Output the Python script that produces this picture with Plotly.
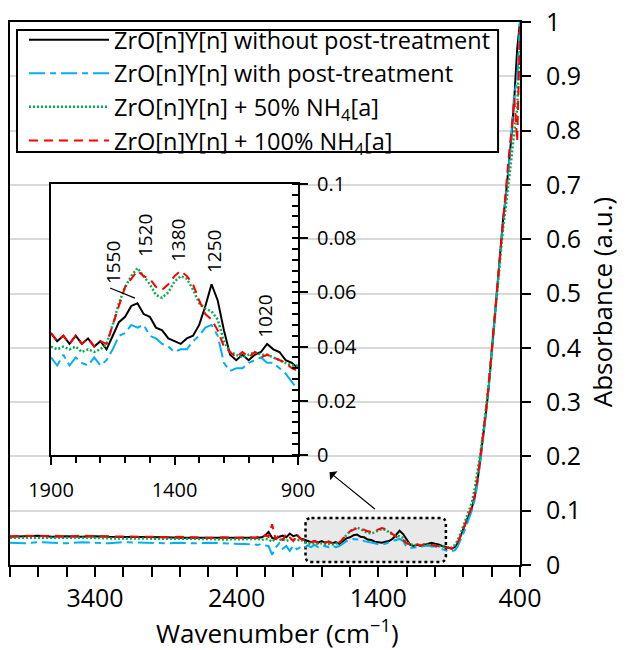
import plotly.graph_objects as go

# wavenumber grid (cm-1)
wavenumber = [
    4000, 3900, 3800, 3700, 3600, 3500, 3400, 3300, 3200, 3100, 3000, 2900, 2800, 2700, 2600, 2500, 2400, 2300,
    2275, 2250, 2225, 2200, 2175, 2150, 2125, 2100, 2075, 2050, 2025, 2000, 1975, 1950, 1925,
    1900, 1875, 1850, 1825, 1800, 1775, 1750, 1725, 1700, 1675, 1650, 1625, 1600, 1575, 1550, 1525, 1500, 1475,
    1450, 1425, 1400, 1375, 1350, 1325, 1300, 1275, 1250, 1225, 1200, 1175, 1150, 1125, 1100, 1075, 1050, 1025,
    1000, 975, 950, 925, 900,
    880, 860, 840, 820, 800, 780, 760, 740, 720, 700, 680, 660, 640, 620, 600, 580, 560, 540, 520, 500, 480, 460,
    440, 420, 400,
]

abs_without = [
    .052, .053, .054, .052, .053, .052, .053, .052, .052, .051, .051, .051, .050, .050, .050, .050, .049, .050,
    .049, .050, .051, .054, .061, .050, .048, .052, .054, .051, .058, .053, .055, .049, .047,
    .045, .042, .044, .041, .044, .041, .043, .040, .042, .039, .044, .049, .051, .055, .056, .052, .051, .047,
    .046, .043, .042, .041, .043, .044, .048, .055, .063, .057, .046, .037, .035, .037, .035, .037, .038, .041,
    .039, .038, .035, .034, .032,
    .030, .033, .040, .052, .066, .080, .092, .105, .125, .155, .195, .235, .280, .330, .390, .450, .505, .580,
    .635, .680, .730, .790, .860, .950, 1.0,
]

abs_with = [
    .041, .040, .042, .041, .040, .042, .041, .040, .042, .041, .041, .040, .041, .040, .041, .040, .040, .039,
    .038, .037, .039, .036, .035, .019, .032, .040, .030, .035, .026, .036, .029, .033, .031,
    .036, .033, .037, .033, .036, .034, .033, .036, .033, .035, .039, .044, .045, .048, .047, .048, .044, .043,
    .041, .040, .038, .039, .039, .042, .044, .047, .048, .044, .034, .031, .032, .032, .034, .035, .036, .034,
    .034, .032, .030, .027, .024,
    .025, .027, .034, .045, .058, .072, .086, .100, .120, .150, .190, .230, .280, .330, .390, .450, .505, .580,
    .630, .680, .730, .800, .870, .890, 1.0,
]

abs_nh4_50 = [
    .050, .050, .051, .050, .050, .050, .050, .049, .049, .049, .049, .048, .048, .048, .048, .047, .047, .047,
    .047, .048, .046, .048, .047, .043, .049, .046, .048, .044, .047, .049, .045, .047, .043,
    .040, .039, .040, .039, .040, .038, .039, .038, .039, .041, .048, .056, .062, .066, .069, .066, .063, .059,
    .058, .060, .064, .066, .065, .061, .056, .054, .053, .050, .042, .038, .037, .036, .037, .038, .037, .037,
    .036, .035, .034, .033, .033,
    .032, .037, .045, .058, .073, .087, .100, .115, .140, .170, .205, .245, .285, .335, .390, .445, .500, .560,
    .620, .660, .700, .750, .800, .840, .970,
]

abs_nh4_100 = [
    .053, .054, .053, .054, .052, .054, .053, .053, .052, .053, .052, .051, .052, .051, .050, .051, .050, .051,
    .050, .052, .049, .055, .052, .075, .047, .056, .045, .058, .050, .044, .057, .048, .046,
    .045, .042, .044, .041, .044, .041, .043, .040, .042, .041, .048, .055, .062, .065, .068, .066, .065, .062,
    .061, .063, .066, .068, .066, .063, .057, .052, .050, .046, .040, .038, .036, .038, .036, .038, .036, .037,
    .036, .035, .034, .032, .031,
    .030, .034, .041, .053, .067, .081, .094, .107, .128, .158, .198, .240, .285, .335, .395, .455, .510, .585,
    .640, .690, .750, .800, .860, .780, .990,
]

series_names = [
    "ZrO[n]Y[n] without post-treatment",
    "ZrO[n]Y[n] with post-treatment",
    "ZrO[n]Y[n] + 50% NH<sub>4</sub>[a]",
    "ZrO[n]Y[n] + 100% NH<sub>4</sub>[a]",
]

# inset peak labels
peak_labels = ["1550", "1520", "1380", "1250", "1020"]

FONT = "Open Sans"

styles = [
    dict(color="black", width=2, dash="solid"),
    dict(color="#00B0F0", width=2, dash="16px,5px,6px,5px"),
    dict(color="#00B050", width=2.5, dash="2px,2px"),
    dict(color="#FF0000", width=2, dash="9px,6px"),
]
all_series = [abs_without, abs_with, abs_nh4_50, abs_nh4_100]

fig = go.Figure()

for name, vals, st in zip(series_names, all_series, styles):
    fig.add_trace(go.Scatter(x=wavenumber, y=vals, mode="lines", name=name, line=st,
                             xaxis="x", yaxis="y"))

# zoomed inset, 1900-900 cm-1
for name, vals, st in zip(series_names, all_series, styles):
    xs = [w for w in wavenumber if 900 <= w <= 1900]
    ys = [v for w, v in zip(wavenumber, vals) if 900 <= w <= 1900]
    fig.add_trace(go.Scatter(x=xs, y=ys, mode="lines", name=name, line=st, showlegend=False,
                             xaxis="x2", yaxis="y2"))

# grey dotted box marking the zoomed region
xL, xR, yB, yT, rx, ry = 1914, 923, 0.0055, 0.0866, 42, 0.011
box_path = (f"M {xL - rx},{yT} L {xR + rx},{yT} Q {xR},{yT} {xR},{yT - ry} "
            f"L {xR},{yB + ry} Q {xR},{yB} {xR + rx},{yB} L {xL - rx},{yB} "
            f"Q {xL},{yB} {xL},{yB + ry} L {xL},{yT - ry} Q {xL},{yT} {xL - rx},{yT} Z")
fig.add_shape(type="path", path=box_path, xref="x", yref="y", layer="below",
              fillcolor="#e9e9e9", line=dict(color="black", width=2.5, dash="dot"))

# legend frame drawn as a shape so it hugs the entries
fig.add_shape(type="rect", xref="paper", yref="paper", x0=0.0137, x1=0.957, y0=0.7606, y1=0.9853,
              layer="above", fillcolor="white", line=dict(color="black", width=2))

# arrow from box to inset
fig.add_annotation(x=1745, y=0.171, ax=1414, ay=0.101, xref="x", yref="y", axref="x", ayref="y",
                   showarrow=True, arrowhead=1, arrowsize=1.6, arrowwidth=1.2, arrowcolor="black", text="")

# peak labels in the inset
label_pos = [(1649, 0.0708), (1519, 0.0808), (1386, 0.0793), (1240, 0.0749), (1034, 0.0513)]
for txt, (px, py) in zip(peak_labels, label_pos):
    fig.add_annotation(x=px, y=py, xref="x2", yref="y2", text=txt, showarrow=False, textangle=-90,
                       font=dict(family=FONT, size=19, color="black"))
fig.add_shape(type="line", x0=1661, y0=0.0616, x1=1560, y1=0.0579, xref="x2", yref="y2",
              line=dict(color="black", width=1.2))

fig.update_layout(
    width=632, height=650,
    margin=dict(l=2, r=120, t=14, b=93),
    paper_bgcolor="white", plot_bgcolor="white",
    font=dict(family=FONT, size=25, color="black"),
    showlegend=True,
    legend=dict(x=0.0274, y=1.0074, xanchor="left", yanchor="top", bgcolor="rgba(0,0,0,0)",
                borderwidth=0, font=dict(size=23.5), itemwidth=80, tracegroupgap=0),
    xaxis=dict(domain=[0, 1], range=[4000, 400], tick0=400, dtick=1000, ticks="outside", ticklen=10,
               tickwidth=1.5, tickcolor="black", showline=True, linecolor="black", linewidth=2,
               mirror=True, showgrid=False, zeroline=False, automargin=False,
               ticklabeloverflow="allow",
               minor=dict(dtick=200, ticks="outside", ticklen=10, tickcolor="black", tickwidth=1.5)),
    yaxis=dict(domain=[0, 1], range=[0, 1], dtick=0.1, side="right", ticks="outside", ticklen=9,
               tickwidth=1.5, tickcolor="black", showline=True, linecolor="black", linewidth=2,
               mirror=True, showgrid=True, gridcolor="#d9d9d9", gridwidth=1.5, zeroline=False,
               automargin=False, ticklabelstandoff=10, ticklabeloverflow="allow"),
    xaxis2=dict(domain=[0.0804, 0.5647], anchor="y2", range=[1900, 900], tick0=900, dtick=500,
                ticks="outside", ticklen=8, tickwidth=1.5, tickcolor="black", showline=True,
                linecolor="black", linewidth=2, mirror=True, showgrid=False, zeroline=False,
                automargin=False, tickfont=dict(size=20), ticklabelstandoff=8,
                minor=dict(dtick=100, ticks="outside", ticklen=6, tickcolor="black", tickwidth=1.5)),
    yaxis2=dict(domain=[0.2026, 0.7017], anchor="x2", range=[0, 0.1], dtick=0.02, side="right",
                ticks="outside", ticklen=8, tickwidth=1.5, tickcolor="black", showline=True,
                linecolor="black", linewidth=2, mirror=True, showgrid=False, zeroline=False,
                automargin=False, tickfont=dict(size=20), ticklabelstandoff=5,
                minor=dict(dtick=0.004, ticks="inside", ticklen=6, tickcolor="black", tickwidth=1.5)),
)

# axis titles as annotations so their size and position are fixed
fig.add_annotation(x=0.525, y=-0.123, xref="paper", yref="paper", text="Wavenumber (cm<sup>−1</sup>)",
                   showarrow=False, xanchor="center", yanchor="middle", font=dict(size=26))
fig.add_annotation(x=1.161, y=0.484, xref="paper", yref="paper", text="Absorbance (a.u.)",
                   showarrow=False, textangle=-90, xanchor="center", yanchor="middle", font=dict(size=26))

fig.write_html("out.html")
